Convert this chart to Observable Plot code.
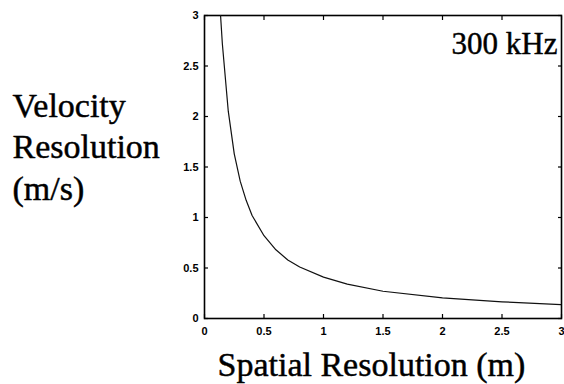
<!DOCTYPE html>
<html>
<head>
<meta charset="utf-8">
<script src="https://cdn.jsdelivr.net/npm/d3@7"></script>
<script src="https://cdn.jsdelivr.net/npm/@observablehq/plot@0.6"></script>
<style>
  html, body { margin: 0; padding: 0; background: #fff; }
  #chart svg { display: block; }
</style>
</head>
<body>
<div id="chart"></div>
<script>
// Velocity resolution versus spatial resolution at 300 kHz
const spatialRes = [0.135, 0.15, 0.2, 0.25, 0.3, 0.35, 0.4, 0.5, 0.6, 0.7, 0.8, 1.0, 1.2, 1.5, 2.0, 2.5, 3.0];
const velocityRes = [3.0, 2.72, 2.05, 1.63, 1.36, 1.17, 1.02, 0.82, 0.68, 0.58, 0.51, 0.41, 0.34, 0.27, 0.205, 0.165, 0.137];
const xTicks = [0, 0.5, 1, 1.5, 2, 2.5, 3];
const yTicks = [0, 0.5, 1, 1.5, 2, 2.5, 3];
const freqLabel = "300 kHz";
const xLabel = "Spatial Resolution (m)";
const yLabel = "Velocity\nResolution\n(m/s)";

const curve = spatialRes.map((x, i) => ({x, y: velocityRes[i]}));
const noText = () => "";
// descriptive labels: Times-like serif, slightly heavy
const labelStyle = {fontFamily: "Liberation Serif", fontWeight: "normal", fill: "#000", stroke: "#000", strokeWidth: 0.45};

const chart = Plot.plot({
  width: 564,
  height: 384,
  marginLeft: 204,
  marginRight: 3,
  marginTop: 15,
  marginBottom: 66,
  style: {background: "#fff", color: "#000", fontFamily: "Liberation Sans, Arial, sans-serif", fontSize: "11px", fontWeight: "bold"},
  x: {domain: [0, 3]},
  y: {domain: [0, 3]},
  marks: [
    // inward tick marks on all four sides
    Plot.axisX(xTicks, {anchor: "bottom", tickSize: -4, tickFormat: noText, label: null, strokeWidth: 1.2}),
    Plot.axisX(xTicks, {anchor: "top", tickSize: -4, tickFormat: noText, label: null, strokeWidth: 1.2}),
    Plot.axisY(yTicks, {anchor: "left", tickSize: -4, tickFormat: noText, label: null, strokeWidth: 1.2}),
    Plot.axisY(yTicks, {anchor: "right", tickSize: -4, tickFormat: noText, label: null, strokeWidth: 1.2}),
    // tick labels outside the frame
    Plot.axisX(xTicks, {anchor: "bottom", tickSize: 0, tickPadding: 9, tickFormat: d => String(d), label: null}),
    Plot.axisY(yTicks, {anchor: "left", tickSize: 0, tickPadding: 6, tickFormat: d => String(d), label: null}),
    Plot.frame({stroke: "#000", strokeWidth: 1.6}),
    Plot.line(curve, {x: "x", y: "y", stroke: "#111", strokeWidth: 1.2, clip: true}),
    Plot.text([freqLabel], {frameAnchor: "top-right", dx: -4, dy: 38, lineAnchor: "bottom", textAnchor: "end", fontSize: 31, ...labelStyle}),
    Plot.text([xLabel], {frameAnchor: "bottom-left", dx: 13, dy: 57, lineAnchor: "bottom", textAnchor: "start", fontSize: 34, ...labelStyle}),
    Plot.text([yLabel], {frameAnchor: "top-left", dx: -192, dy: 184, lineAnchor: "bottom", textAnchor: "start", lineHeight: 1.22, fontSize: 34, ...labelStyle})
  ]
});

document.getElementById("chart").appendChild(chart);
</script>
</body>
</html>
